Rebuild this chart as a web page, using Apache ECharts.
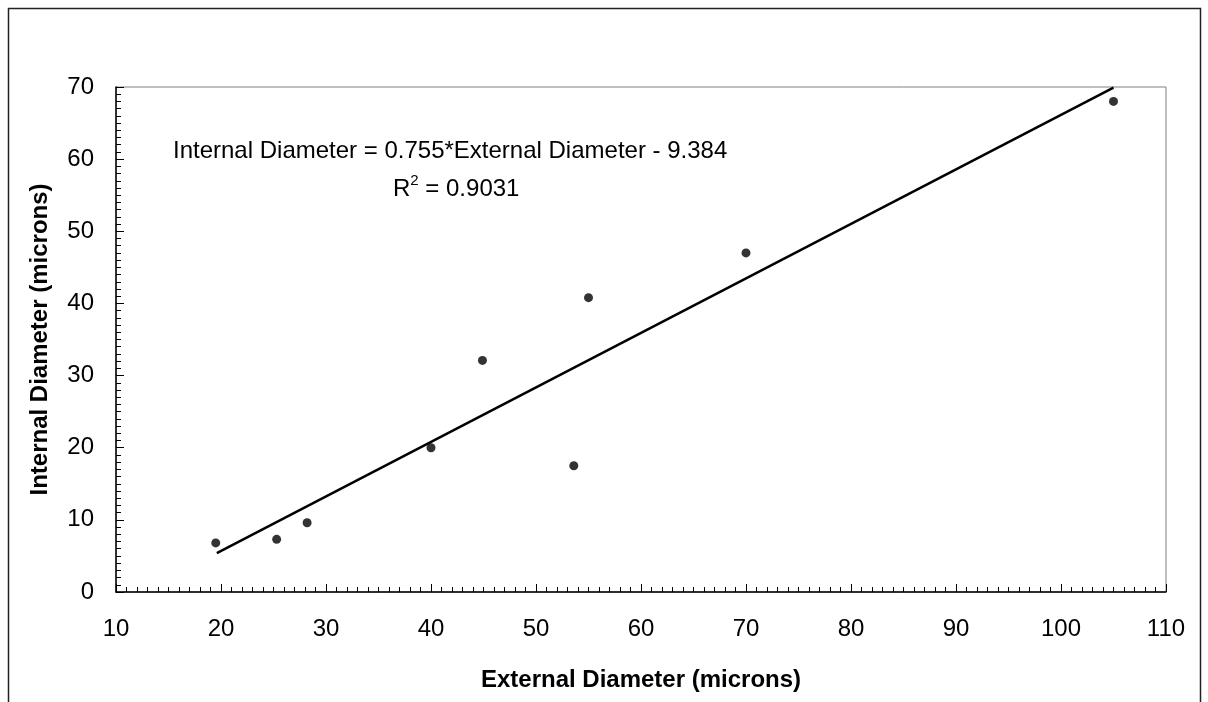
<!DOCTYPE html>
<html>
<head>
<meta charset="utf-8">
<style>
  html, body { margin: 0; padding: 0; background: #fff; }
  #chart { width: 1208px; height: 702px; }
</style>
<script src="https://cdn.jsdelivr.net/npm/echarts@6/dist/echarts.min.js"></script>
</head>
<body>
<div id="chart"></div>
<script>
// measured points (microns)
const externalDia = [19.5, 25.3, 28.2, 40.0, 44.9, 53.6, 55.0, 70.0, 105.0];
const internalDia = [6.8, 7.3, 9.6, 20.0, 32.1, 17.5, 40.8, 47.0, 68.0];
// fitted line ends
const trendX = [19.6, 105.0];
const trendY = [5.4, 69.9];

const font = '"Liberation Sans", Arial, sans-serif';

const chart = echarts.init(document.getElementById('chart'));

const points = externalDia.map((x, i) => [x, internalDia[i]]);
const trend = trendX.map((x, i) => [x, trendY[i]]);

const option = {
  animation: false,
  backgroundColor: '#fff',
  grid: {
    left: 116, top: 87, right: 42, bottom: 110,
    show: true, borderColor: '#808080', borderWidth: 1
  },
  xAxis: {
    type: 'value',
    min: 10, max: 110, interval: 10,
    name: 'External Diameter (microns)',
    nameLocation: 'middle',
    nameGap: 76,
    nameTextStyle: { fontFamily: font, fontSize: 24, fontWeight: 'bold', color: '#000' },
    axisLine: { show: true, onZero: false, lineStyle: { color: '#000', width: 1.5 } },
    axisTick: { show: true, inside: true, length: 8, lineStyle: { color: '#000' } },
    minorTick: { show: true, splitNumber: 10, length: 5, lineStyle: { color: '#000' } },
    splitLine: { show: false },
    axisLabel: { fontFamily: font, fontSize: 24, color: '#000', margin: 25 }
  },
  yAxis: {
    type: 'value',
    min: 0, max: 70, interval: 10,
    name: 'Internal Diameter (microns)',
    nameLocation: 'middle',
    nameGap: 64,
    nameTextStyle: { fontFamily: font, fontSize: 24, fontWeight: 'bold', color: '#000' },
    axisLine: { show: true, onZero: false, lineStyle: { color: '#000', width: 1.5 } },
    axisTick: { show: true, inside: true, length: 8, lineStyle: { color: '#000' } },
    minorTick: { show: true, splitNumber: 10, length: 5, lineStyle: { color: '#000' } },
    splitLine: { show: false },
    axisLabel: { fontFamily: font, fontSize: 24, color: '#000', margin: 22 }
  },
  graphic: [
    {
      type: 'rect', silent: true, z: -1,
      shape: { x: 8.5, y: 8.5, width: 1192, height: 720 },
      style: { fill: 'none', stroke: '#222', lineWidth: 1.5 }
    },
    {
      type: 'text', left: 173, top: 139,
      style: {
        text: 'Internal Diameter = 0.755*External Diameter - 9.384',
        font: '24px ' + font, fill: '#000'
      }
    },
    {
      type: 'text', left: 393, top: 173,
      style: {
        text: '{a|R}{s|2}{a| = 0.9031}',
        fill: '#000',
        rich: {
          a: { fontFamily: font, fontSize: 24, color: '#000', verticalAlign: 'bottom', lineHeight: 28 },
          s: { fontFamily: font, fontSize: 15, color: '#000', verticalAlign: 'top', lineHeight: 28, padding: [0, 0, 10, 0] }
        }
      }
    }
  ],
  series: [
    {
      type: 'line',
      data: trend,
      showSymbol: false,
      symbol: 'none',
      lineStyle: { color: '#000', width: 2.5 },
      z: 2
    },
    {
      type: 'scatter',
      data: points,
      symbol: 'circle',
      symbolSize: 9,
      itemStyle: { color: '#000' },
      z: 3
    }
  ]
};

chart.setOption(option);
</script>
</body>
</html>
